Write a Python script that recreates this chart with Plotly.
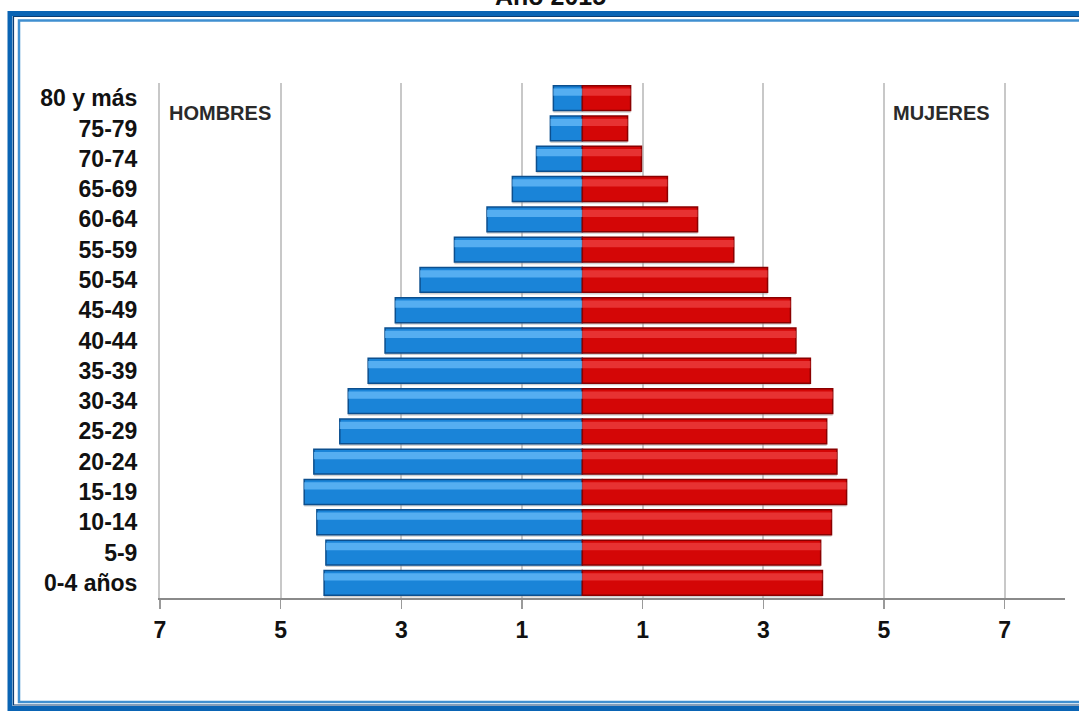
import plotly.graph_objects as go

# ---- data ----
age_groups = ["0-4 años", "5-9", "10-14", "15-19", "20-24", "25-29", "30-34",
              "35-39", "40-44", "45-49", "50-54", "55-59", "60-64", "65-69",
              "70-74", "75-79", "80 y más"]
hombres = [4.28, 4.25, 4.40, 4.61, 4.45, 4.02, 3.88, 3.55, 3.27, 3.10, 2.69,
           2.12, 1.58, 1.16, 0.76, 0.53, 0.48]
mujeres = [3.98, 3.95, 4.13, 4.38, 4.22, 4.05, 4.15, 3.78, 3.54, 3.45, 3.07,
           2.51, 1.91, 1.41, 0.98, 0.75, 0.80]
tick_vals = [-7, -5, -3, -1, 1, 3, 5, 7]
tick_text = ["7", "5", "3", "1", "1", "3", "5", "7"]
title_text = "Año 2015"

W, H = 1079, 711
ML, MR, MT, MB = 160, 14, 83, 113
PW, PH = W - ML - MR, H - MT - MB


def px(x):  # page pixel -> paper
    return (x - ML) / PW


def py(y):
    return (H - MB - y) / PH


neg_h = [-v for v in hombres]
FONT = "Liberation Sans, Arial, sans-serif"

fig = go.Figure()
# soft shadows
fig.add_trace(go.Bar(y=age_groups, x=neg_h, orientation="h", width=0.84, offset=-0.48,
                     marker=dict(color="rgba(150,150,150,0.45)", line=dict(width=0)),
                     hoverinfo="skip", showlegend=False))
fig.add_trace(go.Bar(y=age_groups, x=mujeres, orientation="h", width=0.84, offset=-0.48,
                     marker=dict(color="rgba(150,150,150,0.45)", line=dict(width=0)),
                     hoverinfo="skip", showlegend=False))
# main bars
fig.add_trace(go.Bar(y=age_groups, x=neg_h, orientation="h", width=0.82, offset=-0.41,
                     marker=dict(color="#1a84d8", line=dict(color="#0c4f8e", width=1.5)),
                     name="Hombres", showlegend=False))
fig.add_trace(go.Bar(y=age_groups, x=mujeres, orientation="h", width=0.82, offset=-0.41,
                     marker=dict(color="#d40606", line=dict(color="#8a0000", width=1.5)),
                     name="Mujeres", showlegend=False))
# bevel highlights
fig.add_trace(go.Bar(y=age_groups, x=neg_h, orientation="h", width=0.24, offset=0.08,
                     marker=dict(color="rgba(105,188,250,0.75)", line=dict(width=0)),
                     hoverinfo="skip", showlegend=False))
fig.add_trace(go.Bar(y=age_groups, x=mujeres, orientation="h", width=0.24, offset=0.08,
                     marker=dict(color="rgba(240,70,70,0.7)", line=dict(width=0)),
                     hoverinfo="skip", showlegend=False))

shapes = [
    dict(type="rect", xref="paper", yref="paper", x0=px(10), x1=px(1100), y0=py(708.5), y1=py(13.5),
         line=dict(color="#0a64b4", width=5), layer="above"),
    dict(type="rect", xref="paper", yref="paper", x0=px(13.5), x1=px(1100), y0=py(705), y1=py(16.5),
         line=dict(color="#0b3e74", width=1.2), layer="above"),
    dict(type="rect", xref="paper", yref="paper", x0=px(19), x1=px(1100), y0=py(702), y1=py(20.5),
         line=dict(color="#3f8fd0", width=2.5), layer="above"),
]

annotations = [
    dict(text="<b>HOMBRES</b>", xref="paper", yref="paper", x=px(167), y=py(113), xanchor="left",
         yanchor="middle", showarrow=False, font=dict(family=FONT, size=20, color="#2a2a2a")),
    dict(text="<b>MUJERES</b>", xref="paper", yref="paper", x=px(891), y=py(113), xanchor="left",
         yanchor="middle", showarrow=False, font=dict(family=FONT, size=20, color="#2a2a2a")),
    dict(text="<b>" + title_text + "</b>", xref="paper", yref="paper", x=px(550), y=py(12),
         xanchor="center", yanchor="bottom", showarrow=False,
         font=dict(family=FONT, size=25, color="#111111")),
]

fig.update_layout(
    width=W, height=H,
    margin=dict(l=ML, r=MR, t=MT, b=MB),
    paper_bgcolor="white", plot_bgcolor="white",
    barmode="overlay",
    shapes=shapes, annotations=annotations,
    font=dict(family=FONT, color="#111111"),
    xaxis=dict(range=[-7, 8], tickvals=tick_vals,
               ticktext=["<b>%s</b>" % t for t in tick_text],
               showgrid=True, gridcolor="#c8c8c8", gridwidth=2, zeroline=False,
               showline=True, linecolor="#8a8a8a", linewidth=1.5,
               ticks="outside", ticklen=9, tickcolor="#9a9a9a", tickwidth=1.5,
               tickfont=dict(family=FONT, size=23, color="#111111"),
               ticklabelstandoff=2, fixedrange=True),
    yaxis=dict(range=[-0.5, 16.5], categoryorder="array", categoryarray=age_groups,
               tickvals=age_groups, ticktext=["<b>%s</b>" % t for t in age_groups],
               showgrid=False, zeroline=False, showline=True, linecolor="#c8c8c8", linewidth=2,
               ticks="", tickfont=dict(family=FONT, size=23, color="#111111"),
               ticklabelstandoff=16, fixedrange=True),
)

fig.write_html("out.html", config={"displayModeBar": False, "staticPlot": True},
               post_script="document.body.style.margin='0px';document.body.style.overflow='hidden';")
